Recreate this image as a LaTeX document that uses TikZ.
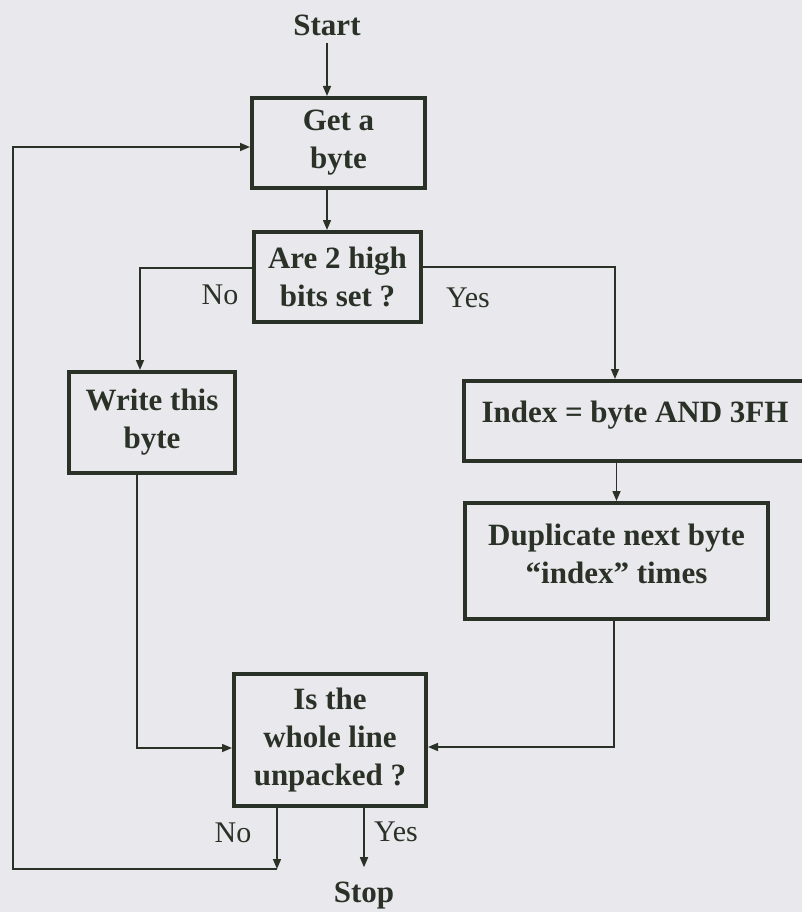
\documentclass[tikz,border=0pt]{standalone}
\usepackage{fontspec}
\setmainfont{Liberation Serif}
\usetikzlibrary{positioning,arrows.meta,calc}
\definecolor{paper}{RGB}{233,233,237}
\definecolor{ink}{RGB}{42,50,40}

\begin{document}
\begin{tikzpicture}[
    x=1pt, y=-1pt,
    box/.style={draw=ink, line width=4pt, align=center, text=ink, inner sep=0pt,
                font=\fontsize{31}{38}\selectfont\bfseries},
    term/.style={text=ink, inner sep=2pt, font=\fontsize{31}{38}\selectfont\bfseries},
    lbl/.style={text=ink, inner sep=2pt, font=\fontsize{30}{36}\selectfont},
    arr/.style={draw=ink, line width=1.5pt, -{Triangle[length=10pt,width=8pt]}}
  ]
  \path[use as bounding box, fill=paper] (0,0) rectangle (802,912);

  % --- boxes ---
  \node[term] (start) at (327,25) {Start};
  \node[box, minimum width=173pt, minimum height=90pt] (get) at (338.5,143)
    {Get a\\byte};
  \node[box, minimum width=167pt, minimum height=90pt] (test) at (337.5,277)
    {Are 2 high\\bits set ?};
  \node[box, minimum width=166pt, minimum height=101pt] (write) at (152,422.5)
    {Write this\\byte};
  \node[box, minimum width=342pt, minimum height=80pt] (index) at (635,421)
    {Index = byte AND 3FH\\[-20pt]\mbox{}};
  \node[box, minimum width=303pt, minimum height=116pt] (dup) at (616.5,561)
    {Duplicate next byte\\“index” times\\[-24pt]\mbox{}};
  \node[box, minimum width=192pt, minimum height=132pt] (check) at (330,740)
    {Is the\\whole line\\unpacked ?};
  \node[term] (stop) at (364,896) {Stop};

  % --- labels ---
  \node[lbl] (no1) at (220,295) {No};
  \node[lbl] (yes1) at (468,298) {Yes};
  \node[lbl] (no2) at (233,833) {No};
  \node[lbl] (yes2) at (396,832) {Yes};

  % --- connectors ---
  \draw[arr] ([yshift=-5pt]start.south) -- (get.north -| start.south);
  \draw[arr] (get.south -| start) -- (test.north -| start);
  \draw[arr] ([yshift=9pt]test.west) -| ([xshift=-12pt]write.north);
  \draw[arr] ([yshift=10pt]test.east) -| ([xshift=-20pt]index.north);
  \draw[arr] (index.south -| dup.north) -- (dup.north);
  \draw[arr] ([xshift=-15pt]write.south) |- ([yshift=-8pt]check.west);
  \draw[arr] ([xshift=-2.5pt]dup.south) |- ([yshift=-7pt]check.east);
  % loop back
  \coordinate (loop) at (277,869);
  \coordinate (back) at (13,869);
  \draw[arr] (check.south -| loop) -- (loop);
  \draw[arr] (loop) -- (back) |- ([yshift=-4pt]get.west);
  \draw[arr] (check.south -| stop) -- ([yshift=13pt]stop.north);
\end{tikzpicture}
\end{document}
